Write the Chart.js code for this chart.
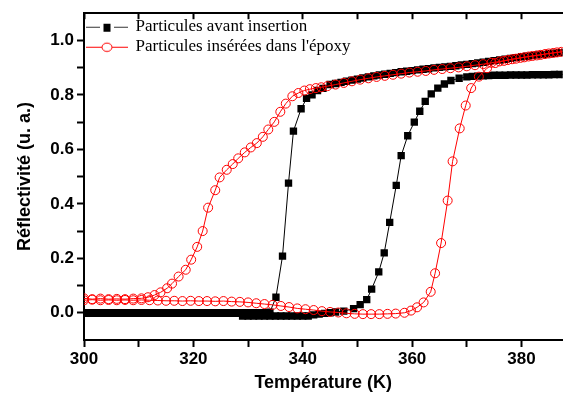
<!DOCTYPE html>
<html><head><meta charset="utf-8">
<script src="https://cdn.jsdelivr.net/npm/chart.js@4/dist/chart.umd.min.js"></script>
<style>html,body{margin:0;padding:0;background:#fff}canvas{display:block}</style>
</head><body>
<canvas id="c" width="568" height="399"></canvas>
<script>
// ---- data (Température K, Réflectivité u.a.) ----
const seriesNames = ['Particules avant insertion', "Particules insérées dans l'époxy"];

const blackCooling = [
[300,0],[301,0],[302,0],[303,0],[304,0],[305,0],[306,0],[307,0],[308,0],[309,0],[310,0],[311,0],[312,0],[313,0],[314,0],[315,0],[316,0],[317,0],[318,0],[319,0],[320,0],[321,0],[322,0],[323,0],[324,0],[325,0],[326,0],[327,0],[328,0],[329,0],[330,0],[331,0],[332,0],[333,0],[334,0.002],
[335.1,0.057],[336.3,0.208],[337.4,0.476],[338.3,0.667],[339.7,0.749],[340.7,0.787],[341.7,0.800],[342.7,0.816],[343.7,0.824],
[345,0.838],[346,0.842],[347,0.846],[348,0.850],[349,0.854],[350,0.858],[351,0.862],[352,0.866],[353,0.870],[354,0.873],[355,0.876],[356,0.879],[357,0.882],[358,0.885],[359,0.887],[360,0.889],[361,0.892],[362,0.894],[363,0.896],[364,0.899],[365,0.901],[366,0.903],[367,0.905],[368,0.907],[369,0.910],[370,0.912],[371,0.915],[372,0.917],[373,0.920],[374,0.923],[375,0.926],[376,0.928],[377,0.931],[378,0.934],[379,0.937],[380,0.940],[381,0.942],[382,0.944],[383,0.947],[384,0.949],[385,0.951],[386,0.953],[387,0.955],[388,0.957]
];

const blackHeating = [
[300,-0.002],[301,-0.002],[302,-0.002],[303,-0.002],[304,-0.002],[305,-0.002],[306,-0.002],[307,-0.002],[308,-0.002],[309,-0.002],[310,-0.002],[311,-0.002],[312,-0.002],[313,-0.002],[314,-0.002],[315,-0.002],[316,-0.002],[317,-0.002],[318,-0.002],[319,-0.002],[320,-0.002],[321,-0.002],[322,-0.002],[323,-0.002],[324,-0.002],[325,-0.002],[326,-0.002],[327,-0.002],[328,-0.002],
[329,-0.012],[330,-0.012],[331,-0.012],[332,-0.012],[333,-0.012],[334,-0.012],[335,-0.012],[336,-0.012],[337,-0.012],[338,-0.012],[339,-0.012],[340,-0.012],[341,-0.012],
[342,-0.008],[343,-0.005],[344,-0.002],[345,0.000],[346,0.003],[347.5,0.006],[349.3,0.015],[350.5,0.030],[351.7,0.048],[352.6,0.087],[353.9,0.150],[354.9,0.220],[355.9,0.332],[357.1,0.468],[358.0,0.577],[359.2,0.650],[360.4,0.700],[361.4,0.740],[362.4,0.776],[363.5,0.804],[364.7,0.825],[365.9,0.840],[367.1,0.853],[368.6,0.861],
[370,0.866],[371,0.868],[372,0.869],[373,0.870],[374,0.871],[375,0.872],[376,0.872],[377,0.872],[378,0.873],[379,0.873],[380,0.873],[381,0.873],[382,0.874],[383,0.874],[384,0.874],[385,0.874],[386,0.875],[387,0.875],[388,0.875]
];

const redCooling = [
[300,0.053],[301.5,0.050],[303,0.052],[304.5,0.050],[306,0.051],[307.5,0.050],[309,0.052],[310.5,0.053],[311.7,0.057],[312.9,0.065],[314.0,0.075],[315.2,0.090],[316.1,0.107],[317.3,0.133],[318.6,0.158],[319.6,0.195],[320.7,0.242],[321.7,0.300],[322.7,0.386],[324.0,0.450],[324.8,0.497],[326.1,0.525],[327.2,0.546],[328.2,0.567],[329.4,0.589],[330.5,0.607],[331.6,0.623],[332.7,0.646],[333.7,0.673],[334.8,0.701],[335.9,0.738],[336.9,0.768],[338.1,0.795],[339.2,0.807],[340.3,0.816],[341.3,0.821],[342.4,0.825],[343.4,0.828],
[344.5,0.832],[346,0.838],[347.5,0.844],[349,0.850],[350.5,0.856],[352,0.861],[353.5,0.866],[355,0.870],[356.5,0.874],[358,0.878],[359.5,0.882],[361,0.885],[362.5,0.888],[364,0.892],[365.5,0.895],[367,0.898],[368.5,0.901],[370,0.905],[371.5,0.909],[373,0.913],[374.5,0.918],[376,0.923],[377.5,0.928],[379,0.933],[380.5,0.938],[382,0.943],[383.5,0.947],[385,0.952],[386.5,0.956],[388,0.960]
];

const redHeating = [
[300,0.046],[301.5,0.048],[303,0.046],[304.5,0.047],[306,0.046],[307.5,0.047],[309,0.046],[310.5,0.047],[312,0.046],[313.5,0.045],[315,0.044],[316.5,0.044],[318,0.043],[319.5,0.044],[321,0.043],[322.5,0.043],[324,0.042],[325.5,0.043],[327,0.041],[328.5,0.040],[330,0.038],[331.5,0.035],[333,0.032],[334.5,0.029],[336,0.025],[337.5,0.021],[339,0.016],[340.5,0.013],[342,0.010],[343.5,0.006],[345,0.003],[346.5,0.001],[348,-0.002],[349.5,-0.004],[351,-0.005],[352.5,-0.005],[354,-0.005],[355.5,-0.004],[357,-0.003],
[358.6,0.000],[359.8,0.008],[360.9,0.020],[362.1,0.038],[363.4,0.077],[364.2,0.145],[365.3,0.256],[366.5,0.412],[367.4,0.556],[368.7,0.677],[369.8,0.761],[370.8,0.825],[372.2,0.867],[373.7,0.898],[375.2,0.917],[376.8,0.925],[378.3,0.931],[379.8,0.936],[381.3,0.941],[382.8,0.945],[384.3,0.950],[385.8,0.954],[387.3,0.958]
];

const xTickValues = [300,310,320,330,340,350,360,370,380];
const xTickLabels = ['300','320','340','360','380'];
const yTickValues = [0.0,0.1,0.2,0.3,0.4,0.5,0.6,0.7,0.8,0.9,1.0];
const yTickLabels = ['0.0','0.2','0.4','0.6','0.8','1.0'];

// ---- helpers ----
const toXY = arr => arr.map(p => ({x: p[0], y: p[1]}));
function legendSymbol(kind) {
  const c = document.createElement('canvas');
  c.width = 42; c.height = 12;
  const g = c.getContext('2d');
  g.lineWidth = 1;
  g.strokeStyle = kind === 'black' ? '#333' : '#ff0000';
  g.beginPath(); g.moveTo(0, 6.5); g.lineTo(42, 6.5); g.stroke();
  if (kind === 'black') {
    g.fillStyle = '#fff'; g.fillRect(14, 1, 14, 11);
    g.fillStyle = '#000'; g.fillRect(17.5, 3, 7, 8);
  } else {
    g.fillStyle = '#fff';
    g.beginPath(); g.ellipse(21, 6.5, 5, 4.2, 0, 0, Math.PI * 2); g.fill(); g.stroke();
  }
  return c;
}
const symBlack = legendSymbol('black');
const symRed = legendSymbol('red');

const tickFont = {family: 'Liberation Sans', size: 17, weight: 'bold'};
const titleFont = {family: 'Liberation Sans', size: 18, weight: 'bold'};

new Chart(document.getElementById('c'), {
  type: 'line',
  data: {
    datasets: [
      {label: seriesNames[0], data: toXY(blackCooling), order: 2, borderColor: '#000', borderWidth: 1, pointStyle: 'rect', pointRadius: 5.2, backgroundColor: '#000', pointBackgroundColor: '#000', pointBorderColor: '#000', pointBorderWidth: 0},
      {label: seriesNames[0] + ' (2)', data: toXY(blackHeating), order: 2, borderColor: '#000', borderWidth: 1, pointStyle: 'rect', pointRadius: 5.2, backgroundColor: '#000', pointBackgroundColor: '#000', pointBorderColor: '#000', pointBorderWidth: 0},
      {label: seriesNames[1], data: toXY(redCooling), order: 1, borderColor: '#ff0000', borderWidth: 1, pointStyle: 'circle', pointRadius: 4.5, backgroundColor: 'rgba(0,0,0,0)', pointBackgroundColor: 'rgba(0,0,0,0)', pointBorderColor: '#ff0000', pointBorderWidth: 1},
      {label: seriesNames[1] + ' (2)', data: toXY(redHeating), order: 1, borderColor: '#ff0000', borderWidth: 1, pointStyle: 'circle', pointRadius: 4.5, backgroundColor: 'rgba(0,0,0,0)', pointBackgroundColor: 'rgba(0,0,0,0)', pointBorderColor: '#ff0000', pointBorderWidth: 1}
    ]
  },
  options: {
    responsive: false,
    animation: false,
    devicePixelRatio: 1,
    layout: {padding: 0},
    elements: {line: {tension: 0}},
    scales: {
      x: {
        type: 'linear', position: 'bottom', min: 300, max: 387.5,
        afterBuildTicks: s => { s.ticks = xTickValues.map(v => ({value: v})); },
        afterFit: s => { s.height = 59; },
        ticks: {
          autoSkip: false, maxRotation: 0, color: '#000', font: tickFont, padding: 2,
          callback: v => xTickLabels.includes(String(v)) ? String(v) : ''
        },
        grid: {drawOnChartArea: false, tickLength: 7, tickWidth: 2, tickColor: '#000'},
        border: {color: '#000', width: 2},
        title: {display: true, text: 'Température (K)', color: '#000', font: titleFont, padding: {top: 0, bottom: 5}}
      },
      xTop: {
        type: 'linear', position: 'top', min: 300, max: 387.5,
        afterBuildTicks: s => { s.ticks = xTickValues.map(v => ({value: v})); },
        afterFit: s => { s.height = 10; },
        ticks: {display: false},
        grid: {drawOnChartArea: false, tickLength: -6, tickWidth: 2, tickColor: '#000'},
        border: {color: '#000', width: 2}
      },
      y: {
        type: 'linear', position: 'left', min: -0.1, max: 1.1,
        afterBuildTicks: s => { s.ticks = yTickValues.map(v => ({value: v})); },
        afterFit: s => { s.width = 84; },
        ticks: {
          color: '#000', font: tickFont, padding: 3,
          callback: v => { const t = v.toFixed(1); return yTickLabels.includes(t) ? t : ''; }
        },
        grid: {drawOnChartArea: false, tickLength: 7, tickWidth: 2, tickColor: '#000'},
        border: {color: '#000', width: 2},
        title: {display: true, text: 'Réflectivité (u. a.)', color: '#000', font: titleFont, padding: {top: 14, bottom: 0}}
      }
    },
    plugins: {
      tooltip: {enabled: false},
      legend: {
        position: 'chartArea', align: 'start',
        title: {display: true, text: '', font: {size: 1}, padding: {top: 0, bottom: 14}},
        labels: {
          usePointStyle: true, pointStyleWidth: 40, padding: 3, color: '#000',
          font: {family: 'Liberation Serif', size: 17},
          generateLabels: chart => [
            {text: seriesNames[0], pointStyle: symBlack, fillStyle: '#000', strokeStyle: '#000', lineWidth: 0, hidden: false, datasetIndex: 0, fontColor: '#000'},
            {text: seriesNames[1], pointStyle: symRed, fillStyle: '#fff', strokeStyle: '#f00', lineWidth: 0, hidden: false, datasetIndex: 2, fontColor: '#000'}
          ]
        }
      }
    }
  }
});
</script>
</body></html>
